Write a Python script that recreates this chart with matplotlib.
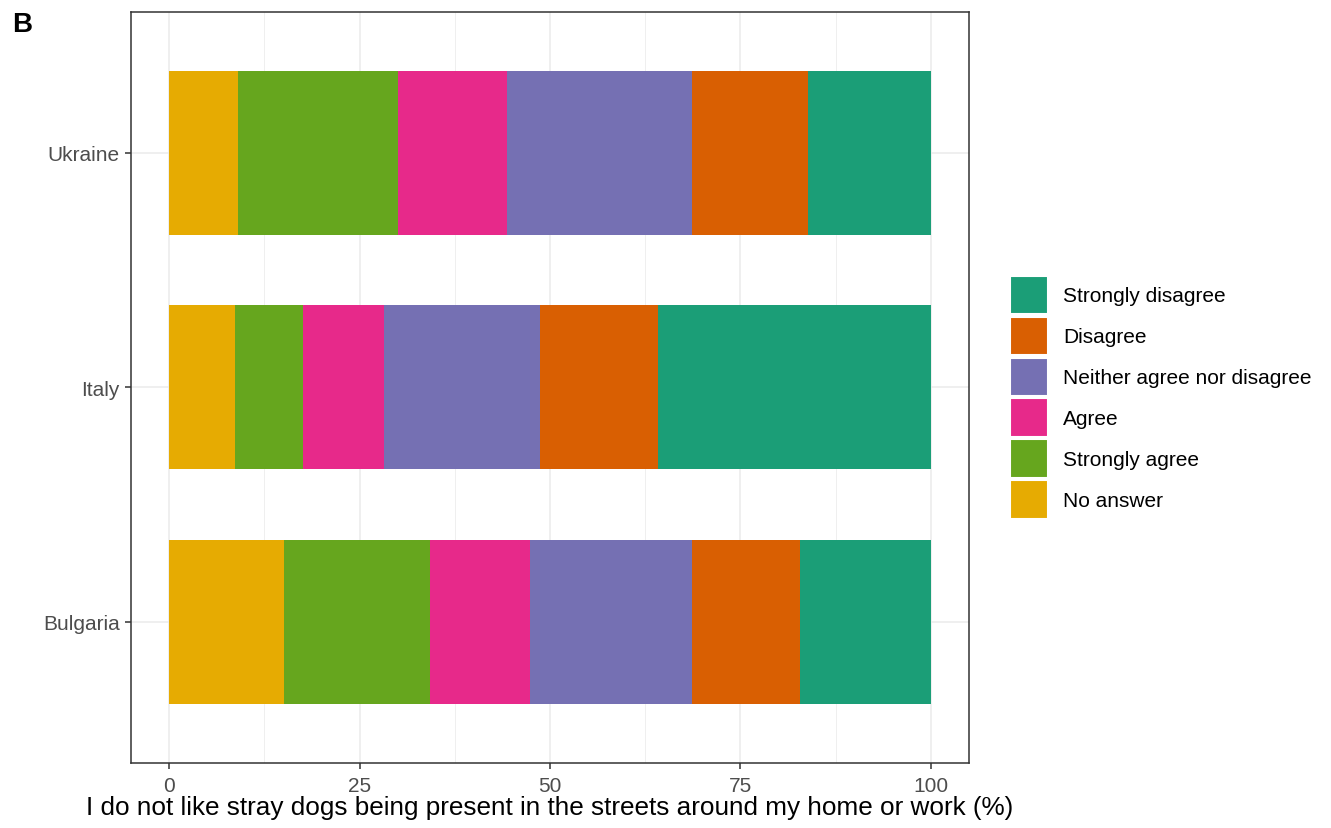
import matplotlib.pyplot as plt
from matplotlib.patches import Patch
import numpy as np

plt.rcParams['font.family'] = ['Liberation Sans', 'DejaVu Sans']

countries = ['Bulgaria', 'Italy', 'Ukraine']
answers = ['No answer', 'Strongly agree', 'Agree',
           'Neither agree nor disagree', 'Disagree', 'Strongly disagree']
colors = ['#E6AB02', '#66A61E', '#E7298A', '#7570B3', '#D95F02', '#1B9E77']

# percentages per country, same order as answers
no_answer = [15.1, 8.7, 9.0]
strongly_agree = [19.1, 8.9, 21.0]
agree = [13.2, 10.6, 14.4]
neither = [21.3, 20.5, 24.2]
disagree = [14.1, 15.5, 15.3]
strongly_disagree = [17.2, 35.8, 16.1]

series = [no_answer, strongly_agree, agree, neither, disagree, strongly_disagree]

fig = plt.figure(figsize=(13.31, 8.29), dpi=100)
ax = fig.add_axes([0.0984, 0.079, 0.6296, 0.905])

y = np.arange(1, len(countries) + 1)
left = np.zeros(len(countries))
for vals, col in zip(series, colors):
    ax.barh(y, vals, left=left, height=0.7, color=col, edgecolor='none', zorder=3)
    left += np.array(vals)

ax.set_xlim(-5, 105)
ax.set_ylim(0.4, 3.6)
ax.set_xticks([0, 25, 50, 75, 100])
ax.set_xticks([12.5, 37.5, 62.5, 87.5], minor=True)
ax.set_yticks(y)
ax.set_yticklabels(countries)

ax.grid(which='major', color='#EBEBEB', linewidth=1.1, zorder=0)
ax.grid(which='minor', axis='x', color='#EBEBEB', linewidth=0.55, zorder=0)
ax.tick_params(which='minor', length=0)
ax.tick_params(which='major', length=4, width=1.1, color='#333333',
               labelsize=15, labelcolor='#4D4D4D')
ax.tick_params(axis='x', pad=5.5)
ax.tick_params(axis='y', pad=4)
for s in ax.spines.values():
    s.set_color('#333333')
    s.set_linewidth(1.1)

ax.set_xlabel('I do not like stray dogs being present in the streets around my home or work (%)',
              fontsize=18.8, color='black', labelpad=0)

handles = [Patch(facecolor=c, edgecolor='white', linewidth=1.5) for c in colors[::-1]]
leg = ax.legend(handles, answers[::-1], loc='center left', bbox_to_anchor=(1.049, 0.487),
                frameon=False, fontsize=15, handlelength=1.83, handleheight=2.45,
                handletextpad=0.72, labelspacing=0.13, borderaxespad=0, borderpad=0)

fig.text(0.009, 0.97, 'B', fontsize=20, fontweight='bold', va='center', ha='left')

fig.savefig('out.png', dpi=100)
